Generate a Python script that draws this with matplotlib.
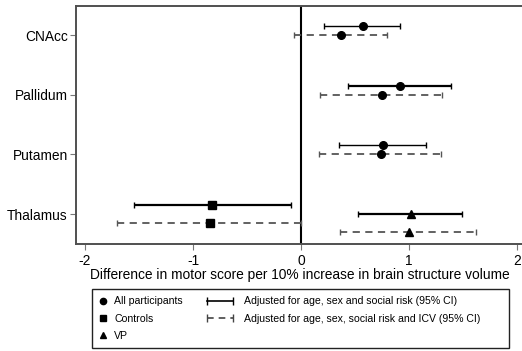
import matplotlib.pyplot as plt
from matplotlib.lines import Line2D
from matplotlib.legend_handler import HandlerLine2D

plt.rcParams['font.family'] = ['Liberation Sans', 'DejaVu Sans']

structures = ['CNAcc', 'Pallidum', 'Putamen', 'Thalamus']

# one row per estimate pair: model 1 (age, sex, social risk), model 2 (+ ICV)
groups = ['All participants', 'All participants', 'All participants', 'Controls', 'VP']
row_struct = [0, 1, 2, 3, 3]
est_model1 = [0.57, 0.92, 0.76, -0.82, 1.02]
lo_model1 = [0.21, 0.44, 0.35, -1.55, 0.53]
hi_model1 = [0.92, 1.39, 1.16, -0.09, 1.49]
est_model2 = [0.37, 0.75, 0.74, -0.84, 1.00]
lo_model2 = [-0.06, 0.18, 0.17, -1.70, 0.36]
hi_model2 = [0.80, 1.31, 1.30, 0.00, 1.62]

markers = {'All participants': 'o', 'Controls': 's', 'VP': '^'}
msizes = {'All participants': 5.5, 'Controls': 6, 'VP': 5.5}
# vertical offsets within a structure (model 1, model 2)
offs = [(-0.15, 0.0), (-0.15, 0.0), (-0.15, 0.0), (-0.15, 0.15), (0.0, 0.30)]
lw1 = [1.0, 1.6, 1.0, 1.6, 1.6]

fig = plt.figure(figsize=(5.22, 3.51), dpi=100)
ax = fig.add_axes([76 / 522, 1 - 244 / 351, 448 / 522, 238 / 351])

for i in range(len(groups)):
    y = row_struct[i]
    m = markers[groups[i]]
    ms = msizes[groups[i]]
    ax.errorbar(est_model1[i], y + offs[i][0],
                xerr=[[est_model1[i] - lo_model1[i]], [hi_model1[i] - est_model1[i]]],
                fmt=m, color='black', ms=ms, elinewidth=lw1[i], capsize=2.3, capthick=1)
    eb = ax.errorbar(est_model2[i], y + offs[i][1],
                     xerr=[[est_model2[i] - lo_model2[i]], [hi_model2[i] - est_model2[i]]],
                     fmt=m, color='black', ecolor='#555555', ms=ms, elinewidth=1.3,
                     capsize=2.3, capthick=1)
    eb[2][0].set_linestyle((0, (4, 3)))

ax.axvline(0, color='black', lw=1.5, zorder=0)

ax.set_xlim(-2.083, 2.065)
ax.set_ylim(3.50, -0.486)
ax.set_xticks([-2, -1, 0, 1, 2])
ax.set_xticklabels(['-2', '-1', '0', '1', '2'])
ax.set_yticks(range(len(structures)))
ax.set_yticklabels(structures)
ax.tick_params(axis='both', labelsize=9.9, length=4, width=0.8, color='#777777')
ax.tick_params(axis='x', pad=3)
ax.tick_params(axis='y', pad=2)
for s in ax.spines.values():
    s.set_color('#505050')
    s.set_linewidth(1.4)
ax.set_xlabel('Difference in motor score per 10% increase in brain structure volume',
              fontsize=9.9, labelpad=0)

# legend
h_markers = [Line2D([], [], ls='none', marker=markers[g], color='black', ms=4.5)
             for g in ['All participants', 'Controls', 'VP']]
h_solid = Line2D([], [], color='black', lw=1.2, marker='|', ms=6, mew=1)
h_dash = Line2D([], [], color='#444444', lw=1.2, ls=(0, (4, 3)), marker='|', ms=6, mew=1)

leg_top = 1 - 289 / 351
leg_h = 60 / 351
leg1 = fig.legend(h_markers, ['All participants', 'Controls', 'VP'],
                  loc='upper left',
                  bbox_to_anchor=(92 / 522, leg_top - leg_h, (509 - 92) / 522, leg_h),
                  mode='expand', fontsize=7.6, handlelength=0.6, handletextpad=0.8,
                  labelspacing=0.68, borderpad=0.7, borderaxespad=0,
                  fancybox=False, edgecolor='#222222', framealpha=1)
leg1.get_frame().set_linewidth(1.0)
fig.legend([h_solid, h_dash],
           ['Adjusted for age, sex and social risk (95% CI)',
            'Adjusted for age, sex, social risk and ICV (95% CI)'],
           loc='upper left', bbox_to_anchor=(196 / 522, leg_top),
           frameon=False, fontsize=7.6, handlelength=3.1, handletextpad=0.7,
           labelspacing=0.68, borderpad=0.7, borderaxespad=0,
           handler_map={h_solid: HandlerLine2D(numpoints=2),
                        h_dash: HandlerLine2D(numpoints=2)})

fig.savefig('out.png', dpi=100)
